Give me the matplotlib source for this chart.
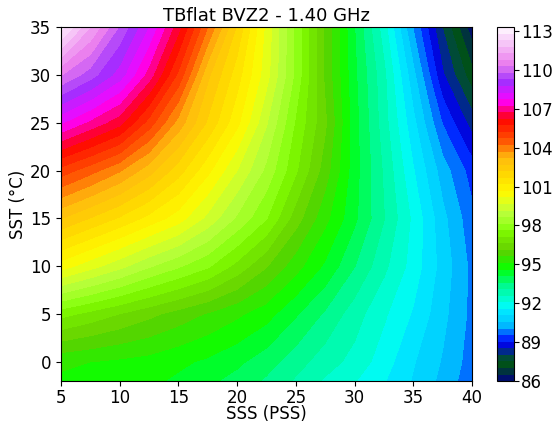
import numpy as np
import matplotlib
matplotlib.use("Agg")
import matplotlib.pyplot as plt

# Grid axes of the brightness temperature table
sss = [5, 7.5, 10, 12.5, 15, 17.5, 20, 22.5, 25, 27.5, 30, 32.5, 35, 37.5, 40]
sst = [-2, 0, 5, 10, 15, 20, 25, 30, 35]

# TB values (K), one row per SST
tb_sst_m2 = [95.0, 94.9, 94.8, 94.7, 94.5, 94.2, 93.9, 93.5, 93.0, 92.5, 92.1, 91.6, 91.0, 90.4, 89.7]
tb_sst_0 = [95.2, 95.1, 95.0, 94.9, 94.7, 94.5, 94.2, 93.8, 93.3, 92.8, 92.4, 91.8, 91.1, 90.5, 89.8]
tb_sst_5 = [97.3, 96.95, 96.6, 96.25, 95.9, 95.55, 95.2, 94.8, 94.15, 93.5, 92.8, 92.15, 91.5, 90.7, 89.9]
tb_sst_10 = [100.4, 99.85, 99.3, 98.7, 98.2, 97.7, 96.95, 96.15, 95.3, 94.5, 93.6, 92.7, 91.85, 90.85, 89.9]
tb_sst_15 = [102.7, 102.15, 101.6, 101.0, 100.4, 99.5, 98.55, 97.65, 96.35, 95.25, 94.2, 93.1, 91.95, 90.7, 89.7]
tb_sst_20 = [105.0, 104.4, 103.75, 102.9, 101.9, 100.8, 99.65, 98.5, 97.2, 95.85, 94.3, 93.0, 91.6, 90.3, 89.3]
tb_sst_25 = [107.8, 107.1, 106.4, 105.0, 103.5, 102.1, 100.8, 99.2, 97.55, 96.2, 94.3, 92.8, 91.2, 89.5, 88.3]
tb_sst_30 = [110.3, 109.5, 108.5, 107.0, 105.1, 102.8, 101.4, 99.85, 98.0, 96.0, 94.2, 92.7, 90.7, 88.6, 87.2]
tb_sst_35 = [113.0, 111.3, 109.7, 108.2, 106.4, 104.2, 102.1, 100.0, 98.0, 96.0, 94.1, 92.3, 90.0, 88.0, 86.2]

cbar_ticks = [86, 89, 92, 95, 98, 101, 104, 107, 110, 113]

tb = np.array([tb_sst_m2, tb_sst_0, tb_sst_5, tb_sst_10, tb_sst_15,
               tb_sst_20, tb_sst_25, tb_sst_30, tb_sst_35])
X, Y = np.meshgrid(sss, sst)

fig = plt.figure(figsize=(5.54, 4.22), dpi=100)
ax = fig.add_axes([0.110, 0.097, 0.742, 0.839])
cax = fig.add_axes([0.897, 0.097, 0.031, 0.839])

levels = np.linspace(86.0, 113.3, 55)
cs = ax.contourf(X, Y, tb, levels=levels, cmap='gist_ncar')

ax.set_xlim(5, 40)
ax.set_ylim(-2, 35)
ax.set_xticks([5, 10, 15, 20, 25, 30, 35, 40])
ax.set_yticks([0, 5, 10, 15, 20, 25, 30, 35])
ax.tick_params(labelsize=12)
ax.tick_params(axis='x', pad=2)
ax.set_xlabel('SSS (PSS)', fontsize=12, labelpad=-1)
ax.set_ylabel('SST (°C)', fontsize=12, labelpad=2)
ax.set_title('TBflat BVZ2 - 1.40 GHz', fontsize=13, pad=4)

cbar = fig.colorbar(cs, cax=cax, ticks=cbar_ticks)
cbar.ax.tick_params(labelsize=12, pad=1.5)

fig.savefig('out.png', dpi=100)
